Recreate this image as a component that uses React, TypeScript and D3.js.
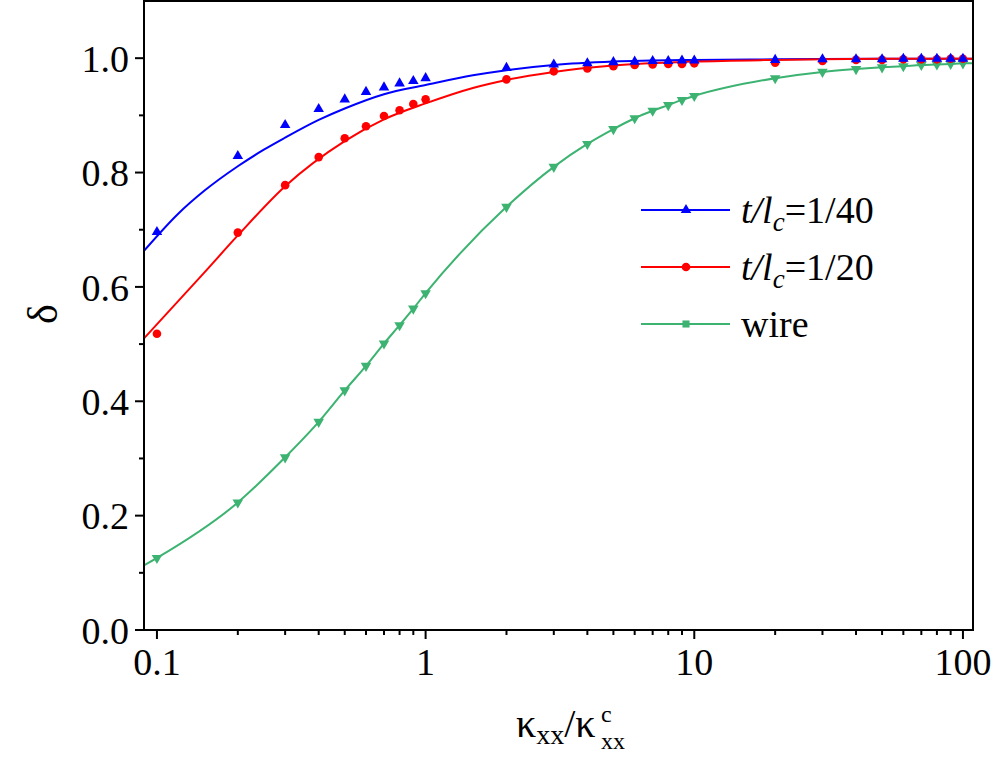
import * as d3 from 'd3';
import React from 'react';

const width = 996;
const height = 763;
const margin = { top: 1, right: 23, bottom: 133, left: 144 };
const blue = '#0000FF';
const red = '#FF0000';
const green = '#3CB371';

// sampled kappa ratios
const kappa = [0.1, 0.2, 0.3, 0.4, 0.5, 0.6, 0.7, 0.8, 0.9, 1, 2, 3, 4, 5, 6, 7, 8, 9, 10, 20, 30, 40, 50, 60, 70, 80, 90, 100];
const blueDelta = [0.696, 0.829, 0.883, 0.911, 0.928, 0.941, 0.949, 0.956, 0.960, 0.965, 0.983, 0.989, 0.991, 0.993, 0.994, 0.995, 0.995, 0.996, 0.996, 0.997, 0.998, 0.998, 0.998, 0.999, 0.999, 0.999, 0.999, 0.999];
const redDelta = [0.518, 0.695, 0.778, 0.827, 0.860, 0.881, 0.899, 0.909, 0.920, 0.928, 0.963, 0.977, 0.982, 0.986, 0.988, 0.989, 0.990, 0.990, 0.991, 0.992, 0.995, 0.997, 0.997, 0.998, 0.998, 0.998, 0.999, 0.999];
const greenDelta = [0.126, 0.223, 0.302, 0.364, 0.419, 0.462, 0.501, 0.533, 0.562, 0.589, 0.740, 0.810, 0.850, 0.876, 0.895, 0.908, 0.918, 0.927, 0.934, 0.965, 0.976, 0.981, 0.984, 0.986, 0.988, 0.989, 0.990, 0.991];

// fitted curves
const blueFitKappa = [0.0895, 0.12, 0.15, 0.2, 0.25, 0.3, 0.4, 0.5, 0.7, 1, 1.5, 2, 3, 5, 10, 20, 50, 109];
const blueFit = [0.663, 0.728, 0.768, 0.811, 0.840, 0.861, 0.892, 0.912, 0.937, 0.953, 0.970, 0.979, 0.988, 0.994, 0.997, 0.998, 0.999, 0.999];
const redFitKappa = [0.0895, 0.15, 0.2, 0.3, 0.5, 0.7, 1, 1.5, 2, 3, 5, 10, 20, 50, 109];
const redFit = [0.510, 0.625, 0.690, 0.776, 0.855, 0.893, 0.921, 0.948, 0.962, 0.976, 0.987, 0.994, 0.997, 0.999, 0.999];
const greenKappa = [0.0895, ...kappa, 109];
const greenFit = [0.113, ...greenDelta, 0.991];

const xMajor = [0.1, 1, 10, 100];
const xMinor = [0.2, 0.3, 0.4, 0.5, 0.6, 0.7, 0.8, 0.9, 2, 3, 4, 5, 6, 7, 8, 9, 20, 30, 40, 50, 60, 70, 80, 90];
const yMajor = [0, 0.2, 0.4, 0.6, 0.8, 1.0];
const yMinor = [0.1, 0.3, 0.5, 0.7, 0.9];

const serif = "'Liberation Serif', 'Times New Roman', Tinos, 'Nimbus Roman', 'Noto Serif', 'DejaVu Serif', FreeSerif, Times, serif";

const App = () => {
  const x = d3.scaleLog().domain([0.0895, 109]).range([margin.left, width - margin.right]);
  const y = d3.scaleLinear().domain([0, 1.1]).range([height - margin.bottom, margin.top]);

  const line = d3.line<[number, number]>()
    .x(d => x(d[0]))
    .y(d => y(d[1]))
    .curve(d3.curveMonotoneX);

  const tri = d3.symbol().type(d3.symbolTriangle).size(48)() as string;
  const sq = d3.symbol().type(d3.symbolSquare).size(50)() as string;

  const bottom = height - margin.bottom;
  const legendRows = [
    { color: blue, kind: 'up', label: '1/40', y: 210 },
    { color: red, kind: 'circle', label: '1/20', y: 267 },
    { color: green, kind: 'square', label: 'wire', y: 324 },
  ];

  return (
    <div style={{ position: 'absolute', left: 0, top: 0 }}>
      <svg width={width} height={height} style={{ display: 'block', background: '#fff', fontFamily: serif }}>
        <defs>
          <clipPath id="plot">
            <rect x={margin.left} y={margin.top} width={width - margin.left - margin.right} height={bottom - margin.top} />
          </clipPath>
        </defs>

        <g clipPath="url(#plot)">
          <path d={line(blueFitKappa.map((k, i) => [k, blueFit[i]]) as any) || ''} fill="none" stroke={blue} strokeWidth={2} />
          <path d={line(redFitKappa.map((k, i) => [k, redFit[i]]) as any) || ''} fill="none" stroke={red} strokeWidth={2} />
          <path d={line(greenKappa.map((k, i) => [k, greenFit[i]]) as any) || ''} fill="none" stroke={green} strokeWidth={2} />
        </g>

        {kappa.map((k, i) => (
          <path key={'g' + i} d={tri} transform={`translate(${x(k)},${y(greenDelta[i])}) rotate(180)`} fill={green} />
        ))}
        {kappa.map((k, i) => (
          <circle key={'r' + i} cx={x(k)} cy={y(redDelta[i])} r={4.3} fill={red} />
        ))}
        {kappa.map((k, i) => (
          <path key={'b' + i} d={tri} transform={`translate(${x(k)},${y(blueDelta[i])})`} fill={blue} />
        ))}

        {/* frame */}
        <rect x={margin.left} y={margin.top} width={width - margin.left - margin.right} height={bottom - margin.top}
          fill="none" stroke="#000" strokeWidth={2} />

        {/* x ticks */}
        {xMajor.map(t => (
          <g key={'xm' + t}>
            <line x1={x(t)} x2={x(t)} y1={bottom} y2={bottom + 9} stroke="#000" strokeWidth={2} />
            <text x={x(t)} y={bottom + 45} textAnchor="middle" fontSize={38}>{String(t)}</text>
          </g>
        ))}
        {xMinor.map(t => (
          <line key={'xn' + t} x1={x(t)} x2={x(t)} y1={bottom} y2={bottom + 5} stroke="#000" strokeWidth={2} />
        ))}

        {/* y ticks */}
        {yMajor.map(t => (
          <g key={'ym' + t}>
            <line x1={margin.left} x2={margin.left - 9} y1={y(t)} y2={y(t)} stroke="#000" strokeWidth={2} />
            <text x={margin.left - 15} y={y(t)} dy="0.36em" textAnchor="end" fontSize={38}>{t.toFixed(1)}</text>
          </g>
        ))}
        {yMinor.map(t => (
          <line key={'yn' + t} x1={margin.left} x2={margin.left - 5} y1={y(t)} y2={y(t)} stroke="#000" strokeWidth={2} />
        ))}

        {/* axis titles */}
        <text x={516} y={737} fontSize={40}>
          κ<tspan fontSize={28} dy={7}>xx</tspan>
          <tspan fontSize={40} dy={-7}>/κ</tspan>
        </text>
        <text x={601} y={722} fontSize={24}>c</text>
        <text x={601} y={749} fontSize={24}>xx</text>

        <text transform="translate(57,314) rotate(-90)" textAnchor="middle" fontSize={42}>δ</text>

        {/* legend */}
        {legendRows.map(r => (
          <g key={r.label}>
            <line x1={641} x2={730} y1={r.y} y2={r.y} stroke={r.color} strokeWidth={2} />
            {r.kind === 'up' && <path d={tri} transform={`translate(686,${r.y})`} fill={r.color} />}
            {r.kind === 'circle' && <circle cx={686} cy={r.y} r={4.3} fill={r.color} />}
            {r.kind === 'square' && <path d={sq} transform={`translate(686,${r.y})`} fill={r.color} />}
            {r.kind === 'square' ? (
              <text x={741} y={r.y + 13} fontSize={38}>{r.label}</text>
            ) : (
              <text x={741} y={r.y + 13} fontSize={38}>
                <tspan fontStyle="italic">t/l</tspan>
                <tspan fontStyle="italic" fontSize={27} dy={8}>c</tspan>
                <tspan dy={-8}>={r.label}</tspan>
              </text>
            )}
          </g>
        ))}
      </svg>
    </div>
  );
};

export default App;
